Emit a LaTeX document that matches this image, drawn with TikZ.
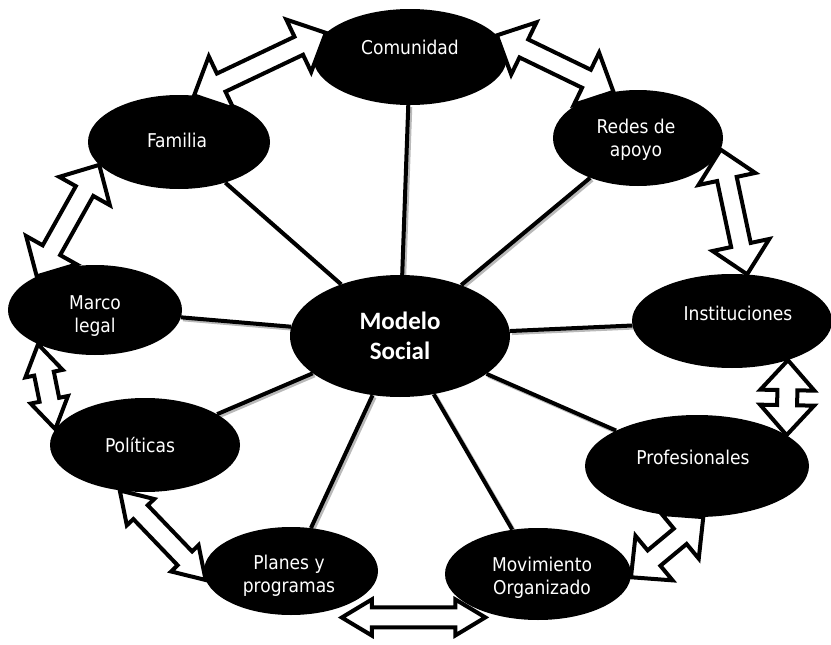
\documentclass[tikz,border=0pt]{standalone}
\usepackage{fontspec}
\setmainfont{DejaVu Sans Condensed}
\newfontfamily\calfont{Carlito}
\usepackage{tikz}
\usetikzlibrary{shapes.geometric,calc,backgrounds}

% double block arrow between two node anchors, #1 = half width of the heads
\newcommand{\dblarrow}[3][29pt]{%
  \draw[blockarrow] (#2)
    -- ($(#2)!30pt!(#3)!#1!90:(#3)$)
    -- ($(#2)!30pt!(#3)!10pt!90:(#3)$)
    -- ($(#3)!30pt!(#2)!10pt!-90:(#2)$)
    -- ($(#3)!30pt!(#2)!#1!-90:(#2)$)
    -- (#3)
    -- ($(#3)!30pt!(#2)!#1!90:(#2)$)
    -- ($(#3)!30pt!(#2)!10pt!90:(#2)$)
    -- ($(#2)!30pt!(#3)!10pt!-90:(#3)$)
    -- ($(#2)!30pt!(#3)!#1!-90:(#3)$)
    -- cycle;}

\begin{document}
\begin{tikzpicture}[
    x=1pt, y=-1pt,
    bubble/.style={ellipse, fill=black, inner sep=0pt},
    txt/.style={text=white, align=center, inner sep=0pt, font=\fontsize{19}{23}\selectfont},
    spoke/.style={line width=4pt, preaction={draw, gray!55, line width=4pt, transform canvas={xshift=2pt, yshift=-2pt}}},
    blockarrow/.style={draw=black, fill=white, line width=4pt}
]
    \useasboundingbox (0,0) rectangle (831,645);

    % Centre
    \node[bubble, minimum width=220pt, minimum height=122pt] (mod) at (400,336) {};
    \node[txt, font=\calfont\bfseries\fontsize{25}{30}\selectfont] (modtxt) at (mod.center) {Modelo\\Social};

    % Ring
    \node[bubble, minimum width=194pt, minimum height=96pt] (com) at (410,57) {};
    \node[bubble, minimum width=182pt, minimum height=94pt] (fam) at (179,142) {};
    \node[bubble, minimum width=170pt, minimum height=96pt] (red) at (638,138) {};
    \node[bubble, minimum width=174pt, minimum height=90pt] (mar) at (95,310) {};
    \node[bubble, minimum width=200pt, minimum height=94pt] (ins) at (732,321) {};
    \node[bubble, minimum width=190pt, minimum height=94pt] (pol) at (145,445) {};
    \node[bubble, minimum width=224pt, minimum height=102pt] (pro) at (697,466) {};
    \node[bubble, minimum width=174pt, minimum height=88pt] (pla) at (291,571) {};
    \node[bubble, minimum width=186pt, minimum height=92pt] (mov) at (538,574) {};

    % Labels
    \node[txt] (comtxt) at ([yshift=10pt]com.center) {Comunidad};
    \node[txt] (famtxt) at ([shift={(-2pt,2pt)}]fam.center) {Familia};
    \node[txt] (redtxt) at ([shift={(-2pt,-2pt)}]red.center) {Redes de\\apoyo};
    \node[txt] (martxt) at ([yshift=-6pt]mar.center) {Marco\\legal};
    \node[txt] (instxt) at ([shift={(6pt,8pt)}]ins.center) {Instituciones};
    \node[txt] (poltxt) at ([xshift=-5pt]pol.center) {Políticas};
    \node[txt] (protxt) at ([shift={(-4pt,9pt)}]pro.center) {Profesionales};
    \node[txt] (platxt) at ([shift={(-2pt,-5pt)}]pla.center) {Planes y\\programas};
    \node[txt] (movtxt) at ([shift={(4pt,-4pt)}]mov.center) {Movimiento\\Organizado};

    % Spokes
    \begin{scope}[on background layer]
        \foreach \n in {com,fam,red,mar,ins,pol,pro,pla,mov}
            \draw[spoke] (mod) -- (\n);
    \end{scope}

    % Arrows round the ring
    \dblarrow{fam.72}{com.164}
    \dblarrow{com.14}{red.118}
    \dblarrow{red.-8}{ins.72}
    \dblarrow[27pt]{ins.-35}{pro.19}
    \dblarrow{pro.-83}{mov.-2}
    \dblarrow[18pt]{[shift={(8pt,-8pt)}]pla.-42}{[shift={(-4pt,-4pt)}]mov.-141}
    \dblarrow[19pt]{pol.-119}{pla.186}
    \dblarrow[19pt]{mar.-149}{pol.170}
    \dblarrow{fam.196}{mar.150}
\end{tikzpicture}
\end{document}
